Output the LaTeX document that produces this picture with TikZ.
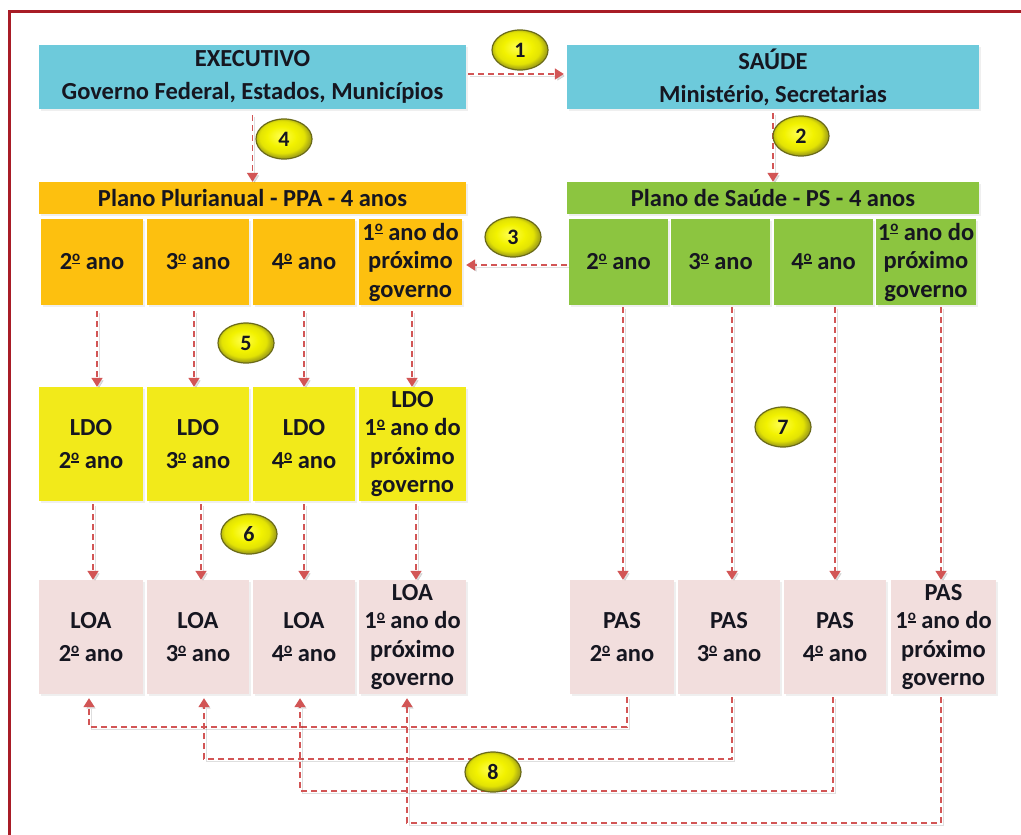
\documentclass[tikz,border=0pt]{standalone}
\usepackage{fontspec}
\setmainfont{Carlito}
\usetikzlibrary{arrows.meta,shapes.geometric,shadows}
\definecolor{frame}{HTML}{A81C26}
\definecolor{execblue}{HTML}{6DCADB}
\definecolor{ppaorange}{HTML}{FDC00F}
\definecolor{psgreen}{HTML}{8CC540}
\definecolor{ldoyellow}{HTML}{F2EA1A}
\definecolor{loapink}{HTML}{F2DEDD}
\definecolor{flow}{HTML}{D25555}
\definecolor{txt}{HTML}{161620}
\definecolor{badgein}{HTML}{FFFF50}
\definecolor{badgemid}{HTML}{F2F200}
\definecolor{badgeout}{HTML}{A8A814}
\definecolor{badgeline}{HTML}{6A6A18}
% ordinal indicator: raised small o with a bar beneath
\newcommand\ordo{\raisebox{6pt}{\fontsize{15}{15}\selectfont\vbox{\hbox{o}\kern1pt\hrule height1.4pt}}}
\pgfdeclareradialshading{badgeshade}{\pgfpoint{-3bp}{4bp}}{%
  color(0bp)=(badgein); color(13bp)=(badgemid); color(20bp)=(badgemid!80!badgeout);
  color(25bp)=(badgeout); color(50bp)=(badgeout)}
\begin{document}
\begin{tikzpicture}[x=1pt,y=-1pt,
  box/.style={rectangle, inner sep=0pt, align=center, text=txt,
    font=\bfseries\fontsize{24.5}{28.5}\selectfont,
    drop shadow={opacity=0.12, shadow xshift=1.5pt, shadow yshift=-1.5pt}},
  head/.style={box, minimum height=32pt},
  cellA/.style={box, minimum height=86pt},
  cellB/.style={box, minimum height=114pt},
  arr/.style={draw=flow, line width=1.5pt, dash pattern=on 6pt off 4pt,
    -{Triangle[width=11pt,length=9pt]},
    preaction={draw=black, opacity=0.13, transform canvas={shift={(2pt,-2pt)}}}},
  badge/.style={ellipse, minimum width=56pt, minimum height=40pt, inner sep=0pt,
    draw=badgeline, line width=1.2pt, shading=badgeshade, text=txt,
    font=\bfseries\fontsize{22}{24}\selectfont}]
\useasboundingbox (0,0) rectangle (1021,835);
\fill[white] (0,0) rectangle (1021,835);
% outer frame (left and top edges)
\draw[frame, line width=3pt] (9,835) -- (9,11) -- (1021,11);

% government and health headers
\node[box, fill=execblue, minimum width=427pt, minimum height=64pt] (exe) at (252.5,77)
  {EXECUTIVO\\[4.5pt]Governo Federal, Estados, Municípios};
\node[box, fill=execblue, minimum width=412pt, minimum height=64pt] (sau) at (773,77)
  {SAÚDE\\[4.5pt]Ministério, Secretarias};

% multi-year plans
\node[head, fill=ppaorange, minimum width=427pt] (ppah) at (252.5,198) {Plano Plurianual - PPA - 4 anos};
\node[head, fill=psgreen, minimum width=412pt] (psh) at (773,198) {Plano de Saúde - PS - 4 anos};

\node[cellA, fill=ppaorange, minimum width=102pt] (ppa1) at (92,262) {2\ordo{} ano};
\node[cellA, fill=ppaorange, minimum width=102pt] (ppa2) at (198,262) {3\ordo{} ano};
\node[cellA, fill=ppaorange, minimum width=102pt] (ppa3) at (304,262) {4\ordo{} ano};
\node[cellA, fill=ppaorange, minimum width=103pt] (ppa4) at (410.5,262) {1\ordo{} ano do\\próximo\\governo};

\node[cellA, fill=psgreen, minimum width=99pt] (ps1) at (618.5,262) {2\ordo{} ano};
\node[cellA, fill=psgreen, minimum width=99pt] (ps2) at (720.5,262) {3\ordo{} ano};
\node[cellA, fill=psgreen, minimum width=99pt] (ps3) at (823.5,262) {4\ordo{} ano};
\node[cellA, fill=psgreen, minimum width=100pt] (ps4) at (926,262) {1\ordo{} ano do\\próximo\\governo};

% LDO row
\node[cellB, fill=ldoyellow, minimum width=104pt] (ldo1) at (91,444) {LDO\\[5pt]2\ordo{} ano};
\node[cellB, fill=ldoyellow, minimum width=102pt] (ldo2) at (198,444) {LDO\\[5pt]3\ordo{} ano};
\node[cellB, fill=ldoyellow, minimum width=102pt] (ldo3) at (304,444) {LDO\\[5pt]4\ordo{} ano};
\node[cellB, fill=ldoyellow, minimum width=107pt] (ldo4) at (412.5,444) {LDO\\1\ordo{} ano do\\próximo\\governo};

% LOA row
\node[cellB, fill=loapink, minimum width=104pt] (loa1) at (91,637) {LOA\\[5pt]2\ordo{} ano};
\node[cellB, fill=loapink, minimum width=102pt] (loa2) at (198,637) {LOA\\[5pt]3\ordo{} ano};
\node[cellB, fill=loapink, minimum width=102pt] (loa3) at (304,637) {LOA\\[5pt]4\ordo{} ano};
\node[cellB, fill=loapink, minimum width=107pt] (loa4) at (412.5,637) {LOA\\1\ordo{} ano do\\próximo\\governo};

% PAS row
\node[cellB, fill=loapink, minimum width=104pt] (pas1) at (622,637) {PAS\\[5pt]2\ordo{} ano};
\node[cellB, fill=loapink, minimum width=102pt] (pas2) at (729,637) {PAS\\[5pt]3\ordo{} ano};
\node[cellB, fill=loapink, minimum width=102pt] (pas3) at (835,637) {PAS\\[5pt]4\ordo{} ano};
\node[cellB, fill=loapink, minimum width=105pt] (pas4) at (943.5,637) {PAS\\1\ordo{} ano do\\próximo\\governo};

% flows 1-4
\draw[arr, shorten <=2pt, shorten >=3pt] ([yshift=3pt]exe.east) -- ([yshift=3pt]exe.east -| sau.west);
\draw[arr, shorten <=6pt] (exe.south) -- (ppah.north);
\draw[arr, shorten <=4pt] (sau.south) -- (psh.north);
\draw[arr, shorten <=2pt, shorten >=4pt] ([yshift=-3pt]ps1.west) -- ([yshift=-3pt]ps1.west -| ppa4.east);

% flows 5: PPA -> LDO
\draw[arr, shorten <=6pt] ([xshift=5pt]ppa1.south) -- ([xshift=5pt]ppa1.south |- ldo1.north);
\draw[arr, shorten <=6pt] ([xshift=-4pt]ppa2.south) -- ([xshift=-4pt]ppa2.south |- ldo2.north);
\draw[arr, shorten <=6pt] (ppa3.south) -- (ppa3.south |- ldo3.north);
\draw[arr, shorten <=6pt] ([xshift=1.5pt]ppa4.south) -- ([xshift=1.5pt]ppa4.south |- ldo4.north);

% flows 6: LDO -> LOA
\draw[arr, shorten <=3pt] ([xshift=2pt]ldo1.south) -- ([xshift=2pt]ldo1.south |- loa1.north);
\draw[arr, shorten <=3pt] ([xshift=3pt]ldo2.south) -- ([xshift=3pt]ldo2.south |- loa2.north);
\draw[arr, shorten <=3pt] (ldo3.south) -- (ldo3.south |- loa3.north);
\draw[arr, shorten <=3pt] ([xshift=3.5pt]ldo4.south) -- ([xshift=3.5pt]ldo4.south |- loa4.north);

% flows 7: PS -> PAS
\draw[arr, shorten <=2pt] ([xshift=1pt]pas1.north |- ps1.south) -- ([xshift=1pt]pas1.north);
\draw[arr, shorten <=2pt] ([xshift=3pt]pas2.north |- ps2.south) -- ([xshift=3pt]pas2.north);
\draw[arr, shorten <=2pt] (pas3.north |- ps3.south) -- (pas3.north);
\draw[arr, shorten <=2pt] ([xshift=-2.5pt]pas4.north |- ps4.south) -- ([xshift=-2.5pt]pas4.north);

% flows 8: PAS -> LOA
\draw[arr, shorten <=3pt, shorten >=4pt] ([xshift=5pt]pas1.south) -- ++(0,33) -| ([xshift=-2pt]loa1.south);
\draw[arr, shorten <=3pt, shorten >=4pt] ([xshift=3pt]pas2.south) -- ++(0,65) -| ([xshift=6pt]loa2.south);
\draw[arr, shorten <=3pt, shorten >=4pt] ([xshift=-2pt]pas3.south) -- ++(0,97) -| ([xshift=-4pt]loa3.south);
\draw[arr, shorten <=3pt, shorten >=4pt] ([xshift=-2.5pt]pas4.south) -- ++(0,129) -| ([xshift=-5.5pt]loa4.south);

% step badges
\node[badge] (b1) at (520,50) {1};
\node[badge] (b2) at (801,136) {2};
\node[badge] (b3) at (513,237) {3};
\node[badge] (b4) at (284,139) {4};
\node[badge] (b5) at (246,343) {5};
\node[badge] (b6) at (249,534) {6};
\node[badge] (b7) at (783,427) {7};
\node[badge] (b8) at (493,772) {8};
\end{tikzpicture}
\end{document}
